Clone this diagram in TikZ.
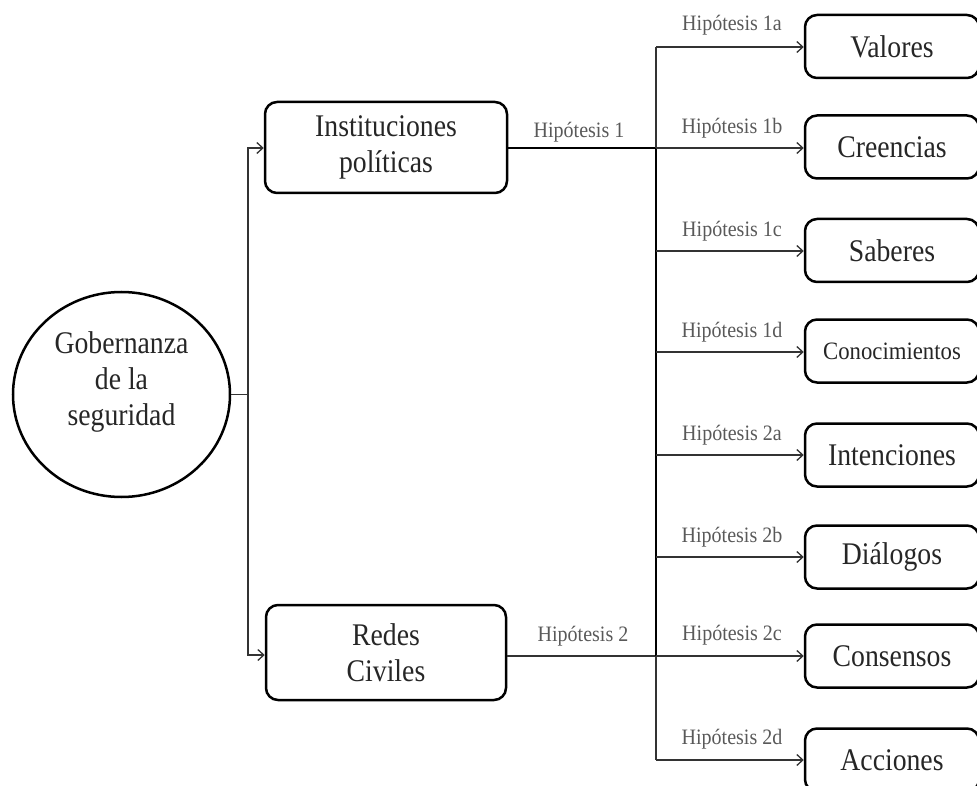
\documentclass[tikz,border=0pt]{standalone}
\usepackage{fontspec}
\setmainfont{Liberation Serif}
\newfontfamily\boxserif[FakeStretch=0.88]{Liberation Serif}
\newfontfamily\labelserif[FakeStretch=0.91]{Liberation Serif}
\usetikzlibrary{shapes.geometric,arrows.meta}

\begin{document}
\begin{tikzpicture}[x=1pt, y=-1pt, >={Straight Barb[length=6pt,width=11pt]},
		txt/.style={align=center, text=black!85, font=\boxserif\fontsize{31.5}{36}\selectfont},
		box/.style={txt, draw, line width=2.5pt, rounded corners=12pt},
		rbox/.style={box, minimum width=174pt, minimum height=63pt},
		hyp/.style={text=black!65, font=\labelserif\fontsize{22}{24}\selectfont},
		link/.style={line width=1.3pt, draw=black!80},
		heavy/.style={line width=2pt, draw=black}]
		\useasboundingbox (0,0) rectangle (977,786);
		\node [draw, ellipse, line width=2.5pt, minimum width=217pt, minimum height=205pt] (gob) at (121.5, 394.5) {};
		\node [txt] (gobtxt) at (121.5, 382) {Gobernanza\\de la\\seguridad};
		\node [box, minimum width=242pt, minimum height=91pt] (inst) at (386, 147.5) {Instituciones\\políticas};
		\node [box, minimum width=240pt, minimum height=95pt] (redes) at (386, 652.5) {Redes\\Civiles};
		\node [rbox] (valores) at (892, 46.5) {Valores};
		\node [rbox] (creencias) at (892, 147) {Creencias};
		\node [rbox] (saberes) at (892, 250.5) {Saberes};
		\node [rbox, font=\labelserif\fontsize{25}{28}\selectfont] (conoc) at (892, 351) {Conocimientos};
		\node [rbox] (intenc) at (892, 455) {Intenciones};
		\node [rbox] (dialogos) at (892, 557) {Diálogos};
		\node [rbox] (consensos) at (892, 656) {Consensos};
		\node [rbox] (acciones) at (892, 760) {Acciones};
		\coordinate (lt) at (248, 394.5);
		\coordinate (lt1) at (248, 148);
		\coordinate (lt2) at (248, 655);
		\coordinate (r1) at (656, 47);
		\coordinate (r2) at (656, 148);
		\coordinate (r3) at (656, 251);
		\coordinate (r4) at (656, 352);
		\coordinate (r5) at (656, 455);
		\coordinate (r6) at (656, 557);
		\coordinate (r7) at (656, 656);
		\coordinate (r8) at (656, 760);
		\draw [link] (gob.east) to (lt);
		\draw [link, ->] (lt) to (lt1) to (lt1 -| inst.west);
		\draw [link, ->] (lt) to (lt2) to (lt2 -| redes.west);
		\draw [heavy] (inst.east |- r2) to (r2);
		\draw [link] (redes.east |- r7) to (r7);
		\draw [link] (r1) to (r2);
		\draw [heavy] (r2) to (r7);
		\draw [link] (r7) to (r8);
		\draw [link, ->] (r1) to (r1 -| valores.west);
		\draw [link, ->] (r2) to (r2 -| creencias.west);
		\draw [link, ->] (r3) to (r3 -| saberes.west);
		\draw [link, ->] (r4) to (r4 -| conoc.west);
		\draw [link, ->] (r5) to (r5 -| intenc.west);
		\draw [link, ->] (r6) to (r6 -| dialogos.west);
		\draw [link, ->] (r7) to (r7 -| consensos.west);
		\draw [link, ->] (r8) to (r8 -| acciones.west);
		\node [hyp] (h1) at (579, 132) {Hipótesis 1};
		\node [hyp] (h2) at (583, 636) {Hipótesis 2};
		\node [hyp] (h1a) at (732, 25) {Hipótesis 1a};
		\node [hyp] (h1b) at (732, 128) {Hipótesis 1b};
		\node [hyp] (h1c) at (732, 231) {Hipótesis 1c};
		\node [hyp] (h1d) at (732, 332) {Hipótesis 1d};
		\node [hyp] (h2a) at (732, 435) {Hipótesis 2a};
		\node [hyp] (h2b) at (732, 537) {Hipótesis 2b};
		\node [hyp] (h2c) at (732, 635) {Hipótesis 2c};
		\node [hyp] (h2d) at (732, 739) {Hipótesis 2d};
\end{tikzpicture}
\end{document}
